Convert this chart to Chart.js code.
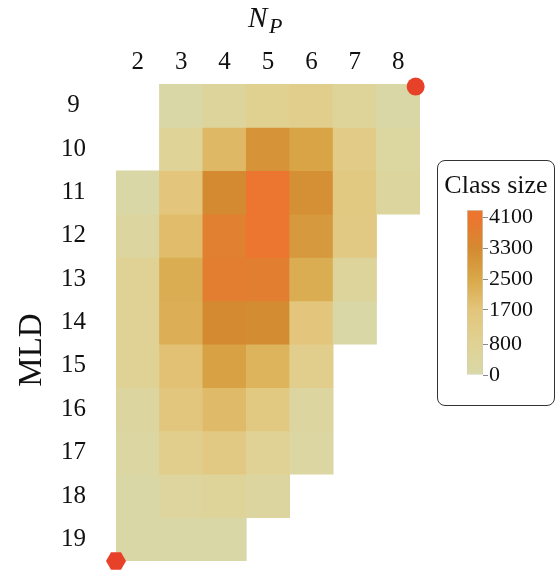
<!DOCTYPE html>
<html><head><meta charset="utf-8">
<script src="https://cdn.jsdelivr.net/npm/chart.js@4.4.0/dist/chart.umd.min.js"></script>
<style>
html,body{margin:0;padding:0;background:#fff;}
#wrap{position:relative;width:557px;height:571px;overflow:hidden;font-family:'Liberation Serif','Times New Roman',serif;color:#111;}
#c{position:absolute;left:0;top:0;}
#tN{position:absolute;left:248px;top:3px;font-style:italic;font-size:29px;line-height:29px;white-space:nowrap;}
#tP{position:absolute;left:269px;top:15px;font-style:italic;font-size:22px;line-height:22px;white-space:nowrap;}
#tMLD{position:absolute;left:-20px;top:330px;width:100px;height:40px;line-height:40px;text-align:center;font-size:33px;transform:rotate(-90deg);white-space:nowrap;}
#legend{position:absolute;left:437px;top:160px;width:116px;height:244px;border:1px solid #333;border-radius:8px;box-sizing:content-box;}
#ltitle{position:absolute;left:0;top:10px;width:116px;text-align:center;font-size:26px;line-height:28px;white-space:nowrap;}
#cb{position:absolute;left:455px;top:190px;}
</style></head><body>
<div id="wrap">
  <canvas id="c" width="557" height="571"></canvas>
  <div id="tN">N</div><div id="tP">P</div>
  <div id="tMLD">MLD</div>
  <div id="legend"><div id="ltitle">Class size</div></div>
  <canvas id="cb" width="98" height="200"></canvas>
</div>
<script>
// ---- data ----
const npLabels = ['2','3','4','5','6','7','8'];
const mldValues = [9,10,11,12,13,14,15,16,17,18,19];
const row9  = [null, 100,  500,  900, 1050,  550,  100];
const row10 = [null, 700, 2050, 3050, 2600, 1300,  300];
const row11 = [ 100,1700, 3300, 4100, 3150, 1450,  400];
const row12 = [ 350,1950, 3700, 4100, 2900, 1400, null];
const row13 = [ 800,2350, 3800, 3750, 2350,  500, null];
const row14 = [ 800,2300, 3300, 3250, 1650,  100, null];
const row15 = [ 800,1800, 2700, 2200, 1100, null, null];
const row16 = [ 350,1600, 2000, 1450,  350, null, null];
const row17 = [ 250,1100, 1400,  800,  250, null, null];
const row18 = [ 100, 450,  600,  350, null, null, null];
const row19 = [ 100, 100,  100, null, null, null, null];
const classSize = [row9,row10,row11,row12,row13,row14,row15,row16,row17,row18,row19];
const colorTicks = [0, 800, 1700, 2500, 3300, 4100];
const colorMax = 4300;
const circleMarker = [{x: 8.4, y: 8.56}];
const hexMarker = [{x: 1.5, y: 19.5}];

// colour scale
const colorStops = [
  [0,    [217,216,168]],
  [800,  [224,210,148]],
  [1700, [227,197,123]],
  [2500, [217,168,73]],
  [3300, [212,138,48]],
  [4100, [236,117,48]],
  [4300, [236,117,48]]
];
function colorFor(v){
  for(let i=0;i<colorStops.length-1;i++){
    const [v0,c0]=colorStops[i],[v1,c1]=colorStops[i+1];
    if(v<=v1){
      const t=Math.max(0,(v-v0)/(v1-v0));
      const c=c0.map((a,k)=>Math.round(a+(c1[k]-a)*t));
      return `rgb(${c[0]},${c[1]},${c[2]})`;
    }
  }
  const c=colorStops[colorStops.length-1][1];
  return `rgb(${c[0]},${c[1]},${c[2]})`;
}
function hexagon(r,color){
  const c=document.createElement('canvas');
  const s=Math.ceil(2*r+2); c.width=s; c.height=s;
  const g=c.getContext('2d'); g.fillStyle=color; g.beginPath();
  for(let i=0;i<6;i++){const a=Math.PI/3*i;const px=s/2+r*Math.cos(a),py=s/2+r*Math.sin(a);i?g.lineTo(px,py):g.moveTo(px,py);}
  g.closePath(); g.fill(); return c;
}
const red = '#E8412A';
const serif = 'Liberation Serif';

const cellSets = mldValues.map((m,r)=>({
  type:'bar',
  data: classSize[r].map(v => v==null ? null : [m-0.5, m+0.5]),
  backgroundColor: classSize[r].map(v => v==null ? 'rgba(0,0,0,0)' : colorFor(v)),
  borderWidth:0, barPercentage:1, categoryPercentage:1, grouped:false,
  xAxisID:'x', yAxisID:'y'
}));
const markerSets = [
  {type:'scatter', data:circleMarker, xAxisID:'xm', yAxisID:'y', pointStyle:'circle', pointRadius:9, pointHoverRadius:9, backgroundColor:red, borderWidth:0, clip:false, order:-1},
  {type:'scatter', data:hexMarker, xAxisID:'xm', yAxisID:'y', pointStyle:hexagon(10,red), pointRadius:10, backgroundColor:red, borderWidth:0, clip:false, order:-1}
];

new Chart(document.getElementById('c'), {
  type:'bar',
  data:{labels:npLabels, datasets:[...markerSets, ...cellSets]},
  options:{
    responsive:false, animation:false, devicePixelRatio:1,
    layout:{padding:{left:0, top:0, right:137, bottom:10}},
    plugins:{legend:{display:false}, tooltip:{enabled:false}},
    scales:{
      x:{type:'category', position:'top', offset:true,
         grid:{display:false, drawTicks:false}, border:{display:false},
         ticks:{font:{family:serif, size:25}, color:'#111', padding:7, maxRotation:0, autoSkip:false},
         afterFit:s=>{s.height=84; s.paddingLeft=0; s.paddingRight=0;}},
      xm:{type:'linear', position:'bottom', min:1.5, max:8.5, offset:false, display:false,
         grid:{offset:false}},
      y:{type:'linear', reverse:true, min:8.5, max:19.5,
         afterBuildTicks:s=>{s.ticks=mldValues.map(v=>({value:v}));},
         grid:{display:false, drawTicks:false}, border:{display:false},
         ticks:{font:{family:serif, size:25}, color:'#111', padding:30, crossAlign:'center', autoSkip:false},
         afterFit:s=>{s.width=116; s.paddingTop=0; s.paddingBottom=0;}}
    }
  }
});

new Chart(document.getElementById('cb'), {
  type:'bar',
  data:{labels:[''], datasets:[{
    data:[[0,colorMax]],
    backgroundColor:(ctx)=>{
      const ch=ctx.chart; if(!ch.chartArea) return colorFor(2000);
      const y=ch.scales.y;
      const g=ch.ctx.createLinearGradient(0,y.getPixelForValue(0),0,y.getPixelForValue(colorMax));
      colorStops.forEach(([v,c])=>g.addColorStop(v/colorMax,`rgb(${c[0]},${c[1]},${c[2]})`));
      return g;
    },
    borderColor:'#cfcfb8', borderWidth:1, borderSkipped:false,
    barPercentage:1, categoryPercentage:1
  }]},
  options:{
    responsive:false, animation:false, devicePixelRatio:1,
    layout:{padding:{top:20, bottom:15, left:12, right:0}},
    plugins:{legend:{display:false}, tooltip:{enabled:false}},
    scales:{
      x:{display:false},
      y:{position:'right', min:0, max:colorMax,
         afterBuildTicks:s=>{s.ticks=colorTicks.map(v=>({value:v}));},
         grid:{display:true, drawOnChartArea:false, drawTicks:true, tickLength:5, color:'#888'},
         border:{display:false},
         ticks:{font:{family:serif, size:22}, color:'#111', padding:1, autoSkip:false,
                callback:(v)=>String(v)},
         afterFit:s=>{s.width=70; s.paddingTop=0; s.paddingBottom=0;}}
    }
  }
});
</script>
</body></html>
